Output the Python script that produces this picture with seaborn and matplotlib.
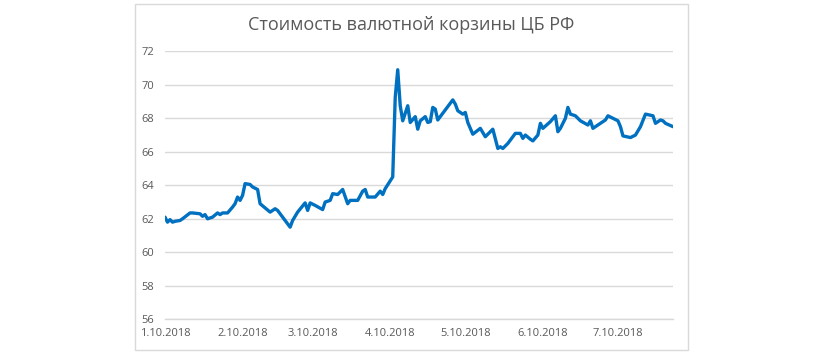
import matplotlib
matplotlib.use("Agg")
import matplotlib.pyplot as plt
import seaborn as sns
import pandas as pd
from matplotlib.patches import Rectangle

# Data: day offset from the first tick date, and basket value
days = [0, 1, 2, 3, 4, 6, 7, 10, 11, 14, 15, 16, 17, 19, 21, 22, 23, 25, 27, 28,
        29, 30, 31, 32, 34, 35, 37, 38, 40, 42, 44, 45, 48, 50, 51, 53, 56, 57,
        58, 60, 63, 64, 66, 67, 69, 71, 73, 74, 77, 79, 80, 81, 84, 86, 87, 88,
        91, 92, 93, 94, 95, 97, 98, 100, 101, 102, 104, 105, 106, 107, 108, 109,
        112, 115, 116, 117, 119, 120, 121, 123, 126, 128, 131, 133, 134, 135,
        137, 140, 142, 143, 144, 146, 147, 149, 150, 151, 154, 156, 157, 158,
        160, 161, 162, 164, 166, 169, 170, 171, 176, 177, 179, 181, 182, 183,
        186, 188, 190, 192, 195, 196, 198, 199, 200, 203]
values = [62.1, 61.8, 61.95, 61.8, 61.85, 61.9, 62.0, 62.35, 62.35, 62.3, 62.15,
          62.25, 62.0, 62.1, 62.35, 62.25, 62.35, 62.35, 62.7, 62.9, 63.3, 63.1,
          63.4, 64.1, 64.05, 63.9, 63.75, 62.9, 62.65, 62.4, 62.6, 62.5, 61.9,
          61.5, 61.9, 62.4, 62.95, 62.5, 62.95, 62.8, 62.55, 63.0, 63.1, 63.5,
          63.45, 63.75, 62.9, 63.1, 63.1, 63.65, 63.75, 63.3, 63.3, 63.65, 63.45,
          63.8, 64.5, 69.25, 70.9, 68.75, 67.85, 68.75, 67.75, 68.1, 67.35, 67.85,
          68.1, 67.75, 67.8, 68.65, 68.55, 67.9, 68.5, 69.1, 68.85, 68.45, 68.25,
          68.35, 67.75, 67.05, 67.4, 66.9, 67.35, 66.2, 66.3, 66.2, 66.5, 67.1,
          67.1, 66.8, 67.0, 66.75, 66.65, 67.0, 67.7, 67.4, 67.8, 68.15, 67.2,
          67.4, 68.0, 68.65, 68.25, 68.15, 67.85, 67.6, 67.85, 67.4, 67.9, 68.15,
          68.0, 67.85, 67.5, 66.95, 66.85, 67.0, 67.5, 68.25, 68.15, 67.7, 67.9,
          67.85, 67.7, 67.5]

tick_days = [0, 31, 59, 90, 120, 151, 181]
tick_labels = ["1.10.2018", "2.10.2018", "3.10.2018", "4.10.2018",
               "5.10.2018", "6.10.2018", "7.10.2018"]
y_ticks = [56, 58, 60, 62, 64, 66, 68, 70, 72]

title = "Стоимость валютной корзины ЦБ РФ"

sns.set_style("white")
plt.rcParams["font.family"] = ["Open Sans", "DejaVu Sans"]

text_color = "#595959"
grid_color = "#D9D9D9"

fig = plt.figure(figsize=(8.2, 3.54), dpi=100)
fig.patch.set_facecolor("white")
# chart area border
fig.patches.append(Rectangle((135 / 820, 4 / 354), (688 - 135) / 820, (350 - 4) / 354,
                             transform=fig.transFigure, fill=False,
                             edgecolor=grid_color, linewidth=1.0))

ax = fig.add_axes([165 / 820, (354 - 319.3) / 354, (673 - 165) / 820, (319.3 - 51.3) / 354])
df = pd.DataFrame({"day": days, "value": values})
sns.lineplot(data=df, x="day", y="value", ax=ax, color="#0070C0", linewidth=2.4)

ax.set_xlim(0, 203)
ax.set_ylim(56, 72)
ax.set_yticks(y_ticks)
ax.set_yticklabels([str(v) for v in y_ticks])
ax.set_xticks(tick_days)
ax.set_xticklabels(tick_labels)
ax.set_xlabel("")
ax.set_ylabel("")

ax.grid(axis="y", color=grid_color, linewidth=1.0)
ax.set_axisbelow(True)
for s in ["top", "right", "left"]:
    ax.spines[s].set_visible(False)
ax.spines["bottom"].set_color(grid_color)
ax.spines["bottom"].set_linewidth(1.0)

ax.tick_params(axis="y", length=0, pad=8, labelsize=8, labelcolor=text_color)
ax.tick_params(axis="x", length=2.5, width=1, color=grid_color, direction="out",
               pad=4, labelsize=8, labelcolor=text_color)

fig.text(411 / 820, 1 - 25 / 354, title, ha="center", va="center",
         fontsize=13, color=text_color)

fig.savefig("out.png", dpi=100)
